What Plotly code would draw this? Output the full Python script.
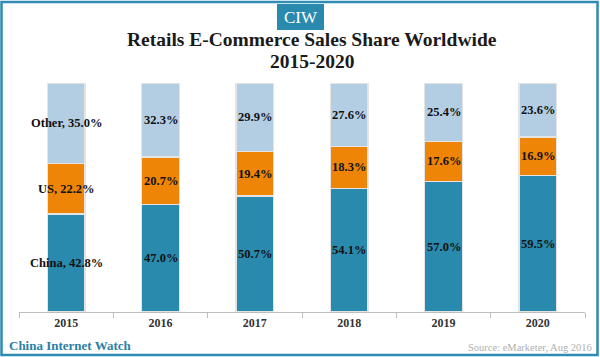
import plotly.graph_objects as go

years = ["2015", "2016", "2017", "2018", "2019", "2020"]
china = [42.8, 47.0, 50.7, 54.1, 57.0, 59.5]
us = [22.2, 20.7, 19.4, 18.3, 17.6, 16.9]
other = [35.0, 32.3, 29.9, 27.6, 25.4, 23.6]
series_names = ["China", "US", "Other"]
series_values = [china, us, other]
colors = ["#2a8aad", "#ef8506", "#b3cde3"]

W, H = 600, 357
ML, MR, MT, MB = 19, 15, 83, 45
PW, PH = W - ML - MR, H - MT - MB


def px(x):
    return (x - ML) / PW


def py(y):
    return (H - MB - y) / PH


SERIF = "Liberation Serif"

fig = go.Figure()
for name, vals, col in zip(series_names, series_values, colors):
    fig.add_trace(go.Bar(
        x=years, y=vals, name=name,
        marker=dict(color=col, line=dict(color="#e4e4e4", width=1.2)),
        hoverinfo="skip",
    ))

annotations = []
for i, yr in enumerate(years):
    base = 0.0
    for name, vals in zip(series_names, series_values):
        v = vals[i]
        txt = f"{v:.1f}%" if i > 0 else f"{name}, {v:.1f}%"
        annotations.append(dict(
            x=i, y=base + v / 2, xref="x", yref="y", text=f"<b>{txt}</b>",
            showarrow=False, font=dict(family=SERIF, size=12.5, color="#111"),
            xanchor="center", yanchor="middle",
        ))
        base += v

# Title
annotations.append(dict(
    x=px(312), y=py(40), xref="paper", yref="paper",
    text="<b>Retails E-Commerce Sales Share Worldwide</b>", showarrow=False,
    font=dict(family=SERIF, size=19.5, color="#1a1a1a"), xanchor="center", yanchor="middle"))
annotations.append(dict(
    x=px(312), y=py(62), xref="paper", yref="paper",
    text="<b>2015-2020</b>", showarrow=False,
    font=dict(family=SERIF, size=19.5, color="#1a1a1a"), xanchor="center", yanchor="middle"))
# CIW badge text
annotations.append(dict(
    x=px(300.5), y=py(17), xref="paper", yref="paper",
    text="CIW", showarrow=False,
    font=dict(family=SERIF, size=17, color="white"), xanchor="center", yanchor="middle"))
# Footer
annotations.append(dict(
    x=px(7), y=py(345), xref="paper", yref="paper",
    text="<b>China Internet Watch</b>", showarrow=False,
    font=dict(family=SERIF, size=13, color="#2a7fa6"), xanchor="left", yanchor="middle"))
annotations.append(dict(
    x=px(594), y=py(347), xref="paper", yref="paper",
    text="Source: eMarketer, Aug 2016", showarrow=False,
    font=dict(family=SERIF, size=10.5, color="#b0b0b0"), xanchor="right", yanchor="middle"))

shapes = [
    dict(type="rect", xref="paper", yref="paper",
         x0=px(1.5), x1=px(597.5), y0=py(355), y1=py(2),
         line=dict(color="#2e8bb1", width=2.5), fillcolor="rgba(0,0,0,0)", layer="below"),
    dict(type="rect", xref="paper", yref="paper",
         x0=px(277), x1=px(324), y0=py(30), y1=py(4),
         line=dict(width=0), fillcolor="#2a8aad"),
]

fig.update_layout(
    width=W, height=H,
    margin=dict(l=ML, r=MR, t=MT, b=MB),
    barmode="stack", bargap=0.6,
    showlegend=False,
    plot_bgcolor="white", paper_bgcolor="white",
    annotations=annotations, shapes=shapes,
    xaxis=dict(
        type="category", automargin=False, tickangle=0, range=[-0.5, 5.5],
        showline=True, linecolor="#bdbdbd", linewidth=1,
        ticks="outside", tickson="boundaries", ticklen=5, tickcolor="#bdbdbd",
        tickfont=dict(family=SERIF, size=12, color="#333"),
        tickprefix="<b>", ticksuffix="</b>",
        showgrid=False, zeroline=False,
    ),
    yaxis=dict(range=[0, 100], visible=False, showgrid=False, automargin=False),
)

fig.write_html("out.html", config={"displayModeBar": False},
               post_script="document.body.style.margin='0';")
